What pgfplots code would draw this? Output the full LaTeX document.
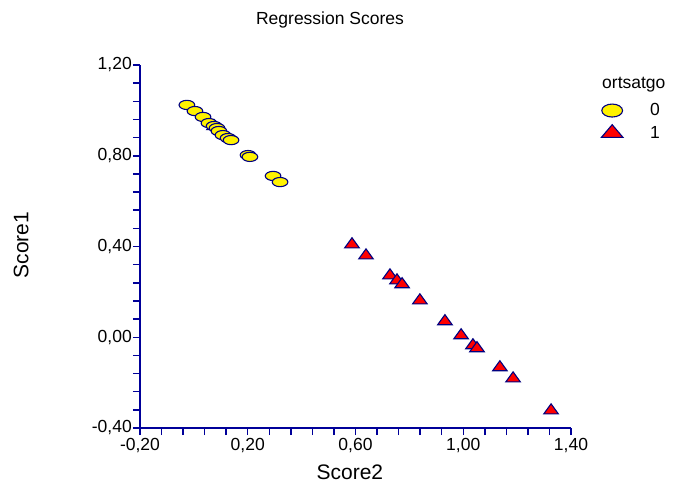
\documentclass[border=0pt]{standalone}
\usepackage{fontspec}
\setmainfont{Liberation Sans}
\usepackage{pgfplots}
\pgfplotsset{compat=1.18}
\definecolor{axisblue}{RGB}{0,0,153}
\definecolor{markline}{RGB}{0,0,128}

% group 0 (ellipses) and group 1 (triangles)
\pgfplotstableread{
x y
-0.026 1.024
0.004 0.997
0.034 0.971
0.056 0.944
0.075 0.931
0.086 0.922
0.093 0.909
0.108 0.891
0.127 0.878
0.138 0.869
0.201 0.803
0.208 0.795
0.294 0.711
0.320 0.684
}\groupzero
\pgfplotstableread{
x y
0.075 0.930
0.587 0.409
0.639 0.360
0.728 0.272
0.754 0.250
0.773 0.233
0.839 0.162
0.932 0.070
0.992 0.008
1.036 -0.036
1.051 -0.049
1.136 -0.133
1.185 -0.182
1.326 -0.323
}\groupone

\begin{document}
\begin{tikzpicture}[x=1pt,y=1pt]
\path[use as bounding box] (-140,-60) rectangle (537,428);
\begin{axis}[
  at={(0,0)}, anchor=south west,
  scale only axis, width=431pt, height=363pt,
  xmin=-0.2, xmax=1.4, ymin=-0.4, ymax=1.2,
  axis lines=left,
  axis line style={-, axisblue, line width=1.5pt},
  xtick={-0.2,0.2,0.6,1.0,1.4},
  ytick={-0.4,0,0.4,0.8,1.2},
  minor tick num=4,
  tick align=outside,
  major tick style={draw=axisblue, line width=1.5pt},
  minor tick style={draw=axisblue, line width=1.5pt},
  major tick length=7pt, minor tick length=7pt,
  ticklabel style={font=\fontsize{17.5}{21}\selectfont},
  yticklabel style={inner xsep=1pt},
  xticklabel style={inner ysep=3pt},
  /pgf/number format/use comma,
  /pgf/number format/fixed,
  /pgf/number format/fixed zerofill,
  /pgf/number format/precision=2,
  /pgf/number format/assume math mode=true,
  xlabel={Score2}, ylabel={Score1},
  label style={font=\fontsize{21}{25}\selectfont},
  xlabel style={at={(axis description cs:0.487,-0.121)}, anchor=center},
  ylabel style={at={(axis description cs:-0.276,0.504)}, anchor=center},
  legend style={at={(1.063,0.905)}, anchor=north west, draw=none, fill=none,
    font=\fontsize{17.5}{21}\selectfont, row sep=5pt,
    /tikz/every odd column/.append style={column sep=25pt}},
  legend cell align=left,
  clip=false,
]
\addplot[only marks, mark=triangle*, mark size=8.4pt,
  mark options={yscale=0.8, fill=red, draw=markline, line width=1.1pt}, forget plot]
  table[x=x, y=y] {\groupone};
\addplot[only marks, mark=*, mark size=4.6pt,
  mark options={xscale=1.7, fill=yellow, draw=markline, line width=1.1pt}, forget plot]
  table[x=x, y=y] {\groupzero};
\addlegendimage{only marks, mark=*, mark size=6.5pt,
  mark options={xscale=1.6, fill=yellow, draw=markline, line width=1.1pt}}
\addlegendentry{0}
\addlegendimage{only marks, mark=triangle*, mark size=12.5pt,
  mark options={yscale=0.68, fill=red, draw=markline, line width=1.1pt}}
\addlegendentry{1}
\end{axis}
\node[font=\fontsize{17.5}{21}\selectfont] at (190,408) {Regression Scores};
\node[font=\fontsize{17.5}{21}\selectfont, anchor=west, inner sep=0pt] at (462,343) {ortsatgo};
\end{tikzpicture}
\end{document}
